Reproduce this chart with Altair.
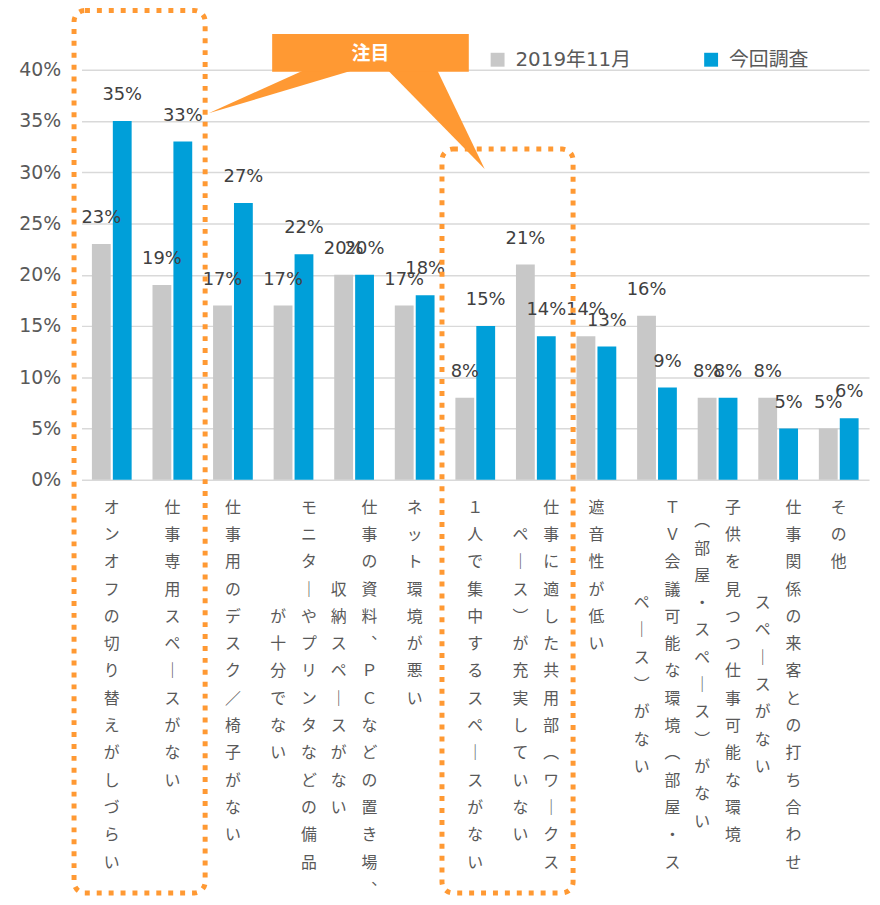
import altair as alt
import pandas as pd

# ---------------- data ----------------
categories = [
    "オンオフの切り替えがしづらい",
    "仕事専用スペースがない",
    "仕事用のデスク／椅子がない",
    "モニターやプリンタなどの備品が十分でない",
    "仕事の資料、ＰＣなどの置き場、収納スペースがない",
    "ネット環境が悪い",
    "１人で集中するスペースがない",
    "仕事に適した共用部（ワークスペース）が充実していない",
    "遮音性が低い",
    "ＴＶ会議可能な環境（部屋・スペース）がない",
    "子供を見つつ仕事可能な環境（部屋・スペース）がない",
    "仕事関係の来客との打ち合わせスペースがない",
    "その他",
]
# label columns as written vertically (right column first)
label_columns = [
    ["オンオフの切り替えがしづらい"],
    ["仕事専用スペースがない"],
    ["仕事用のデスク／椅子がない"],
    ["モニターやプリンタなどの備品", "が十分でない"],
    ["仕事の資料、ＰＣなどの置き場、", "収納スペースがない"],
    ["ネット環境が悪い"],
    ["１人で集中するスペースがない"],
    ["仕事に適した共用部（ワークス", "ペース）が充実していない"],
    ["遮音性が低い"],
    ["ＴＶ会議可能な環境（部屋・ス", "ペース）がない"],
    ["子供を見つつ仕事可能な環境", "（部屋・スペース）がない"],
    ["仕事関係の来客との打ち合わせ", "スペースがない"],
    ["その他"],
]
series = ["2019年11月", "今回調査"]
values_2019 = [23, 19, 17, 17, 20, 17, 8, 21, 14, 16, 8, 8, 5]
values_now = [35, 33, 27, 22, 20, 18, 15, 14, 13, 9, 8, 5, 6]
y_ticks = [0, 5, 10, 15, 20, 25, 30, 35, 40]
callout_text = "注目"

# ---------------- style ----------------
GRAY = "#C8C8C8"
BLUE = "#009FD9"
ORANGE = "#FF9933"
AXIS_TXT = "#595959"
VAL_TXT = "#404040"
GRID = "#D9D9D9"
LATIN = "DejaVu Sans, Noto Sans CJK JP, sans-serif"
CJK = "Noto Sans CJK JP"

W, H = 793, 413
OX, OY = 82, 67          # absolute position of plot origin on the page
LH = 27.5                # line pitch of vertical labels


def rel_x(v):
    return v - OX


def rel_y(v):
    return v - OY


vert_map = {"ー": "｜", "（": "︵", "）": "︶", "、": "︑"}


def vertical(s):
    return "".join(vert_map.get(c, c) for c in s)


# ---------------- tables ----------------
bars_df = pd.DataFrame(
    [{"cat": c, "series": series[0], "value": v} for c, v in zip(categories, values_2019)]
    + [{"cat": c, "series": series[1], "value": v} for c, v in zip(categories, values_now)]
)

lab_rows = []
for c, cols in zip(categories, label_columns):
    for i, t in enumerate(cols):
        pos = 0 if len(cols) == 1 else (1 if i == 0 else -1)
        lab_rows.append({"cat": c, "t": vertical(t), "pos": pos})
labels_df = pd.DataFrame(lab_rows)

one = pd.DataFrame({"k": [0]})

x_enc = alt.X(
    "cat:N",
    sort=categories,
    scale=alt.Scale(domain=categories, paddingInner=0.344, paddingOuter=0.172),
    axis=alt.Axis(labels=False, ticks=False, title=None, domainColor="#D0D0D0", domainWidth=2),
)
x_enc_noaxis = alt.X(
    "cat:N",
    sort=categories,
    scale=alt.Scale(domain=categories, paddingInner=0.344, paddingOuter=0.172),
    axis=None,
)
xoff = alt.XOffset("series:N", scale=alt.Scale(domain=series, paddingInner=0.1))
y_enc = alt.Y(
    "value:Q",
    scale=alt.Scale(domain=[0, 40], nice=False),
    axis=alt.Axis(
        values=y_ticks,
        labelExpr="datum.value + '%'",
        title=None,
        domain=False,
        ticks=False,
        labelPadding=21,
        labelFont=LATIN,
        labelFontSize=19,
        labelColor=AXIS_TXT,
        grid=True,
        gridColor=GRID,
        gridWidth=1.5,
    ),
)

bars = alt.Chart(bars_df).mark_bar().encode(
    x=x_enc,
    xOffset=xoff,
    y=y_enc,
    color=alt.Color(
        "series:N",
        scale=alt.Scale(domain=series, range=[GRAY, BLUE]),
        legend=alt.Legend(
            title=None,
            orient="none",
            direction="horizontal",
            legendX=rel_x(491),
            legendY=rel_y(47),
            symbolType="square",
            symbolSize=196,
            symbolStrokeWidth=0,
            labelFont=LATIN,
            labelFontSize=20,
            labelColor=AXIS_TXT,
            labelOffset=8,
            columnPadding=70,
            padding=0,
        ),
    ),
)

value_labels = (
    alt.Chart(bars_df)
    .transform_calculate(lbl="datum.value + '%'")
    .mark_text(font=LATIN, fontSize=18, color=VAL_TXT, baseline="alphabetic", dy=-21)
    .encode(x=x_enc, xOffset=xoff, y=alt.Y("value:Q"), text="lbl:N")
)

lab_base = (
    alt.Chart(labels_df)
    .transform_calculate(n="length(datum.t)", lines="split(datum.t, '')")
    .transform_joinaggregate(maxn="max(n)", groupby=["cat"])
    .transform_calculate(ypix=f"{H + 20} + (datum.maxn - datum.n) * {LH / 2}")
)


def lab_layer(pos, dx):
    return lab_base.transform_filter(f"datum.pos == {pos}").mark_text(
        font=CJK, fontSize=16, color=AXIS_TXT, baseline="top", align="center",
        lineHeight=LH, dx=dx,
    ).encode(
        x=x_enc_noaxis,
        y=alt.Y("ypix:Q", scale=None, axis=None),
        text="lines:N",
    )


labels = [lab_layer(0, 0), lab_layer(1, 15.5), lab_layer(-1, -15.5)]

# ---------------- annotations (decorative) ----------------
def dotted_box(x1, y1, x2, y2):
    return alt.Chart(one).mark_rect(
        fill="transparent", stroke=ORANGE, strokeWidth=5, strokeDash=[5, 7], cornerRadius=11
    ).encode(
        x=alt.value(rel_x(x1)), x2=alt.value(rel_x(x2)),
        y=alt.value(rel_y(y1)), y2=alt.value(rel_y(y2)),
    )


box1 = dotted_box(74.5, 7.5, 206.5, 896)
box2 = dotted_box(445, 147, 577, 896)


def tri(pts):
    path = "M" + " L".join(f"{rel_x(a):.1f},{rel_y(b):.1f}" for a, b in pts) + " Z"
    return alt.Chart(one).mark_point(
        shape=path, size=4, filled=True, color=ORANGE, opacity=1, strokeWidth=0
    ).encode(x=alt.value(0), y=alt.value(0))


tri1 = tri([(307, 67), (357, 67), (210, 111)])
tri2 = tri([(390, 67), (440, 67), (488, 167)])

callout_box = alt.Chart(one).mark_rect(fill=ORANGE).encode(
    x=alt.value(rel_x(274)), x2=alt.value(rel_x(472)),
    y=alt.value(rel_y(31)), y2=alt.value(rel_y(69)),
)
callout_lbl = alt.Chart(one).mark_text(
    text=callout_text, font=CJK, fontSize=19, fontWeight="bold", color="white",
    align="center", baseline="middle",
).encode(x=alt.value(rel_x(373)), y=alt.value(rel_y(51)))

chart = (
    alt.layer(bars, value_labels, *labels, tri1, tri2, callout_box, callout_lbl, box1, box2)
    .properties(
        width=W,
        height=H,
        autosize=alt.AutoSizeParams(type="none"),
        padding={"left": OX - 8, "top": OY - 8, "right": 3, "bottom": 889 - (OY - 8) - H},
    )
    .configure_view(stroke=None)
)

chart.save("out.html", embed_options={"renderer": "svg", "actions": False})
